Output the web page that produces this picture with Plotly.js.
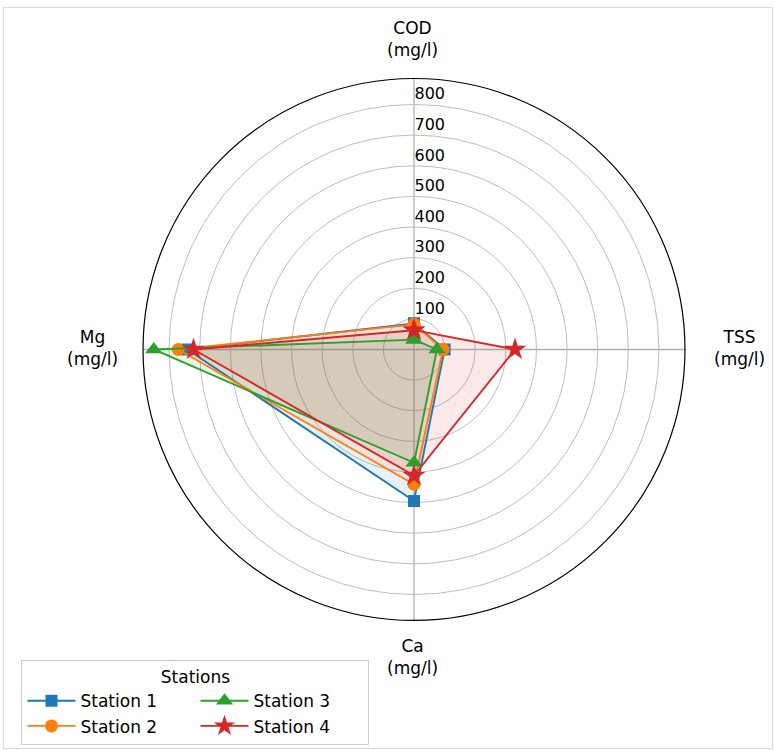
<!DOCTYPE html>
<html>
<head>
<meta charset="utf-8">
<script src="https://cdn.plot.ly/plotly-3.0.1.min.js"></script>
<style>
  html, body { margin: 0; padding: 0; background: #fff; }
  #wrap { position: relative; width: 775px; height: 751px; }
  #chart { width: 775px; height: 751px; }
  #frame { position: absolute; left: 3px; top: 7px; width: 768px; height: 740px;
           border: 1px solid #d9d9d9; pointer-events: none; }
</style>
</head>
<body>
<div id="wrap"><div id="chart"></div><div id="frame"></div></div>
<script>
// ---- data ----
const categories = ["COD", "TSS", "Ca", "Mg"];
const unit = "(mg/l)";
const stations = ["Station 1", "Station 2", "Station 3", "Station 4"];
const station1 = [85, 100, 495, 740];
const station2 = [82, 95, 440, 770];
const station3 = [32, 75, 370, 850];
const station4 = [63, 330, 412, 720];
const radialTicks = [100, 200, 300, 400, 500, 600, 700, 800];

// ---- styles ----
const colors = ["#1f77b4", "#ff7f0e", "#2ca02c", "#d62728"];
const fills = ["rgba(31,119,180,0.1)", "rgba(255,127,14,0.1)", "rgba(44,160,44,0.1)", "rgba(214,39,40,0.1)"];
const symbols = ["square", "circle", "triangle-up", "star"];
const sizes = [12, 13, 15, 17];
const ranks = [1, 3, 2, 4];
// label block positions (paper coords of plot area) for each category
const labelPos = [
  { x: (413 - 23) / 752, y: 1 - 39.5 / 751 },
  { x: (739 - 23) / 752, y: 1 - 348 / 751 },
  { x: (413 - 23) / 752, y: 1 - 657 / 751 },
  { x: (92 - 23) / 752, y: 1 - 348 / 751 }
];

const labels = categories.map(c => c + "<br>" + unit);
const series = [station1, station2, station3, station4];

const traces = [];
series.forEach((vals, i) => {
  const r = vals.concat([vals[0]]);
  const theta = labels.concat([labels[0]]);
  traces.push({
    type: "scatterpolar", r: r, theta: theta, mode: "none",
    fill: "toself", fillcolor: fills[i], showlegend: false, hoverinfo: "skip"
  });
});
series.forEach((vals, i) => {
  const r = vals.concat([vals[0]]);
  const theta = labels.concat([labels[0]]);
  traces.push({
    type: "scatterpolar", r: r, theta: theta, mode: "lines+markers",
    name: stations[i], legendrank: ranks[i],
    line: { color: colors[i], width: 1.9 },
    marker: { symbol: symbols[i], size: sizes[i], color: colors[i], line: { width: 0 } }
  });
});

const annotations = labels.map((t, i) => ({
  text: t, xref: "paper", yref: "paper", x: labelPos[i].x, y: labelPos[i].y,
  xanchor: "center", yanchor: "middle", align: "center", showarrow: false,
  font: { size: 17, family: "DejaVu Sans, sans-serif", color: "#000" }
}));

const layout = {
  width: 775, height: 751,
  margin: { l: 23, r: 0, t: 0, b: 0, autoexpand: false },
  paper_bgcolor: "#fff",
  font: { family: "DejaVu Sans, sans-serif", size: 15, color: "#000" },
  annotations: annotations,
  polar: {
    domain: { x: [0.1596, 0.8803], y: [0.1738, 0.8955] },
    bgcolor: "#fff",
    angularaxis: {
      type: "category", rotation: 90, direction: "clockwise",
      showline: true, linecolor: "#000", linewidth: 1.2,
      showgrid: true, gridcolor: "#b0b0b0", gridwidth: 1.3,
      showticklabels: false, ticks: ""
    },
    radialaxis: {
      range: [0, 885], angle: 90, side: "clockwise", tickangle: 90,
      tickmode: "array", tickvals: radialTicks,
      ticktext: radialTicks.map(v => v + "<br>\u00a0"),
      showline: false, ticks: "",
      showgrid: true, gridcolor: "#bdbdbd", gridwidth: 1,
      tickfont: { size: 16, family: "DejaVu Sans, sans-serif", color: "#000" }
    }
  },
  legend: {
    orientation: "h", x: -0.002, xanchor: "left", y: 0.121, yanchor: "top",
    entrywidth: 110, entrywidthmode: "pixels",
    bgcolor: "#fff", bordercolor: "#cccccc", borderwidth: 1,
    font: { size: 17, family: "DejaVu Sans, sans-serif" },
    title: { text: "Stations", side: "top center", font: { size: 17, family: "DejaVu Sans, sans-serif" } },
    itemwidth: 48, tracegroupgap: 0
  },
  showlegend: true
};

Plotly.newPlot("chart", traces, layout, { displayModeBar: false, staticPlot: true });
</script>
</body>
</html>
